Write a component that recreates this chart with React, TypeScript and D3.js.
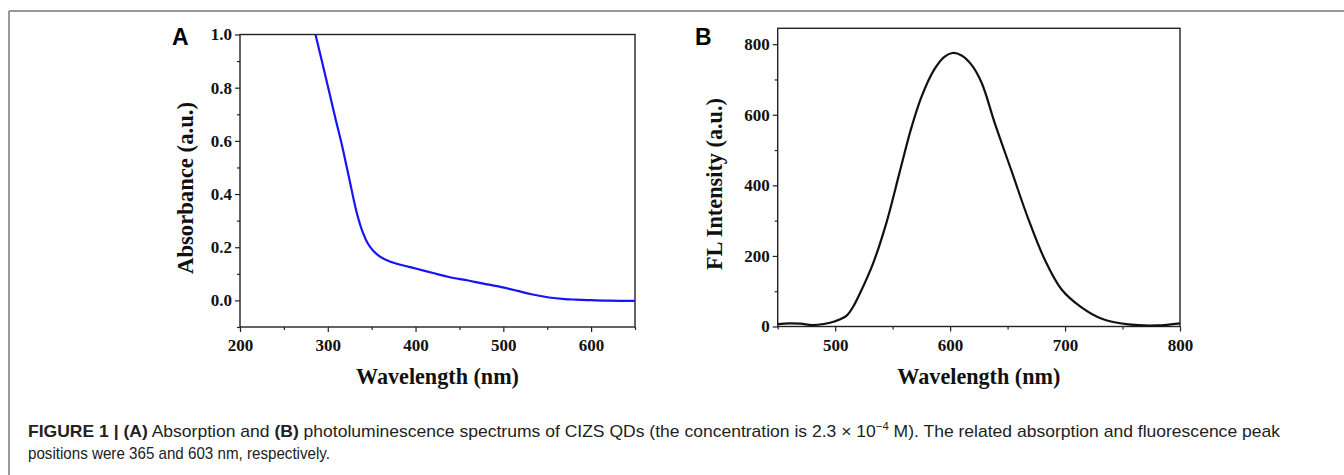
import React, { useEffect, useRef } from "react";
import * as d3 from "d3";

// Panel A: absorption spectrum
const absWavelength = [286, 300.5, 309, 315, 324, 333, 340, 346, 352, 360, 370, 385, 400, 420, 438, 460, 476, 498, 515, 532, 552, 570, 582, 600, 620, 650];
const absValue = [1.0, 0.8, 0.68, 0.6, 0.465, 0.33, 0.255, 0.212, 0.186, 0.164, 0.147, 0.132, 0.12, 0.103, 0.088, 0.075, 0.064, 0.05, 0.037, 0.023, 0.011, 0.005, 0.003, 0.001, -0.001, -0.002];
const absXTicks = [200, 300, 400, 500, 600];
const absYTicks = [0.0, 0.2, 0.4, 0.6, 0.8, 1.0];

// Panel B: photoluminescence spectrum
const flWavelength = [450, 460, 470, 480, 490, 500, 510, 516, 521, 533, 544.5, 556, 566, 575, 586, 595, 602, 610, 619, 627.5, 639, 653.5, 668, 682, 697, 714, 732, 755, 780, 800];
const flValue = [7, 9, 8, 4, 7, 15, 31, 58, 90, 179, 293, 436, 560, 650, 727, 764, 775, 768, 740, 690, 575, 440, 305, 192, 105, 55, 22, 6, 3, 9];
const flXTicks = [500, 600, 700, 800];
const flYTicks = [0, 200, 400, 600, 800];

const serif = "'Liberation Serif', 'Times New Roman', serif";
const sans = "'Liberation Sans', Arial, sans-serif";

export default function App() {
  const ref = useRef<SVGSVGElement | null>(null);

  useEffect(() => {
    const svg = d3.select(ref.current);
    svg.selectAll("*").remove();

    // outer frame
    svg.append("line").attr("x1", 9).attr("x2", 1344).attr("y1", 11).attr("y2", 11)
      .attr("stroke", "#777").attr("stroke-width", 1.5);
    svg.append("line").attr("x1", 9).attr("x2", 9).attr("y1", 11).attr("y2", 475)
      .attr("stroke", "#777").attr("stroke-width", 1.5);

    type Panel = {
      left: number; right: number; top: number; bottom: number;
      xDomain: [number, number]; yDomain: [number, number];
      xTicks: number[]; yTicks: number[]; xMinor: number[]; yMinor: number[];
      xs: number[]; ys: number[]; color: string; yFmt: (v: number) => string;
      ylabel: string; ylabelX: number; ylabelY: number; letter: string; letterX: number;
    };

    const panels: Panel[] = [
      {
        left: 240, right: 635, top: 34.5, bottom: 327,
        xDomain: [200, 650], yDomain: [-0.1, 1.0],
        xTicks: absXTicks, yTicks: absYTicks,
        xMinor: [250, 350, 450, 550, 650], yMinor: [-0.1, 0.1, 0.3, 0.5, 0.7, 0.9],
        xs: absWavelength, ys: absValue, color: "#1414f5",
        yFmt: (v) => d3.format(".1f")(v),
        ylabel: "Absorbance (a.u.)", ylabelX: 193, ylabelY: 188, letter: "A", letterX: 172,
      },
      {
        left: 777.7, right: 1180, top: 28.3, bottom: 326.5,
        xDomain: [450, 800], yDomain: [0, 845],
        xTicks: flXTicks, yTicks: flYTicks,
        xMinor: [450, 550, 650, 750], yMinor: [100, 300, 500, 700],
        xs: flWavelength, ys: flValue, color: "#111",
        yFmt: (v) => d3.format("d")(v),
        ylabel: "FL Intensity (a.u.)", ylabelX: 722, ylabelY: 184, letter: "B", letterX: 695,
      },
    ];

    panels.forEach((p) => {
      const x = d3.scaleLinear().domain(p.xDomain).range([p.left, p.right]);
      const y = d3.scaleLinear().domain(p.yDomain).range([p.bottom, p.top]);
      const g = svg.append("g");

      // minor ticks
      const xMinorAxis = d3.axisBottom(x).tickValues(p.xMinor).tickSize(3).tickFormat(() => "");
      const yMinorAxis = d3.axisLeft(y).tickValues(p.yMinor).tickSize(3).tickFormat(() => "");
      g.append("g").attr("transform", `translate(0,${p.bottom})`).call(xMinorAxis)
        .call((s) => s.select(".domain").remove())
        .selectAll("line").attr("stroke", "#222").attr("stroke-width", 1.2);
      g.append("g").attr("transform", `translate(${p.left},0)`).call(yMinorAxis)
        .call((s) => s.select(".domain").remove())
        .selectAll("line").attr("stroke", "#222").attr("stroke-width", 1.2);

      // major ticks
      const xAxis = d3.axisBottom(x).tickValues(p.xTicks).tickSize(5).tickPadding(7).tickFormat((d) => String(d));
      const yAxis = d3.axisLeft(y).tickValues(p.yTicks).tickSize(5).tickPadding(3).tickFormat((d) => p.yFmt(d as number));
      const gx = g.append("g").attr("transform", `translate(0,${p.bottom})`).call(xAxis);
      const gy = g.append("g").attr("transform", `translate(${p.left},0)`).call(yAxis);
      [gx, gy].forEach((a) => {
        a.select(".domain").remove();
        a.selectAll("line").attr("stroke", "#222").attr("stroke-width", 1.2);
        a.selectAll("text").attr("font-family", serif).attr("font-weight", "bold")
          .attr("font-size", 17).attr("fill", "#111");
      });

      // frame box
      g.append("rect").attr("x", p.left).attr("y", p.top)
        .attr("width", p.right - p.left).attr("height", p.bottom - p.top)
        .attr("fill", "none").attr("stroke", "#222").attr("stroke-width", 1.4);

      // curve
      const pts = p.xs.map((v, i) => [v, p.ys[i]] as [number, number]);
      const line = d3.line<[number, number]>().x((d) => x(d[0])).y((d) => y(d[1])).curve(d3.curveCatmullRom.alpha(0.5));
      g.append("path").attr("d", line(pts)).attr("fill", "none")
        .attr("stroke", p.color).attr("stroke-width", 2.2).attr("stroke-linejoin", "round");

      // axis labels
      g.append("text").attr("x", (p.left + p.right) / 2).attr("y", 384)
        .attr("text-anchor", "middle").attr("font-family", serif).attr("font-weight", "bold")
        .attr("font-size", 23).attr("fill", "#111")
        .attr("textLength", 163).attr("lengthAdjust", "spacingAndGlyphs").text("Wavelength (nm)");
      g.append("text").attr("transform", `translate(${p.ylabelX},${p.ylabelY}) rotate(-90)`)
        .attr("text-anchor", "middle").attr("font-family", serif).attr("font-weight", "bold")
        .attr("font-size", 23).attr("fill", "#111")
        .attr("textLength", 172).attr("lengthAdjust", "spacingAndGlyphs").text(p.ylabel);

      // panel letter
      g.append("text").attr("x", p.letterX).attr("y", 45).attr("font-family", sans)
        .attr("font-weight", "bold").attr("font-size", 23).attr("fill", "#000").text(p.letter);
    });

    // caption
    const cap1 = svg.append("text").attr("x", 28).attr("y", 437)
      .attr("font-family", sans).attr("font-size", 17).attr("fill", "#222")
      .attr("textLength", 1252).attr("lengthAdjust", "spacingAndGlyphs");
    cap1.append("tspan").attr("font-weight", "bold").text("FIGURE 1 | (A)");
    cap1.append("tspan").text(" Absorption and ");
    cap1.append("tspan").attr("font-weight", "bold").text("(B)");
    cap1.append("tspan").text(" photoluminescence spectrums of CIZS QDs (the concentration is 2.3 × 10");
    cap1.append("tspan").attr("font-size", 11).attr("dy", -7).text("−4");
    cap1.append("tspan").attr("dy", 7).text(" M). The related absorption and fluorescence peak");

    svg.append("text").attr("x", 28).attr("y", 459)
      .attr("font-family", sans).attr("font-size", 17).attr("fill", "#222")
      .attr("textLength", 302).attr("lengthAdjust", "spacingAndGlyphs")
      .text("positions were 365 and 603 nm, respectively.");
  }, []);

  return (
    <svg ref={ref} width={1344} height={475}
      style={{ position: "fixed", left: 0, top: 0, background: "#fff" }} />
  );
}
